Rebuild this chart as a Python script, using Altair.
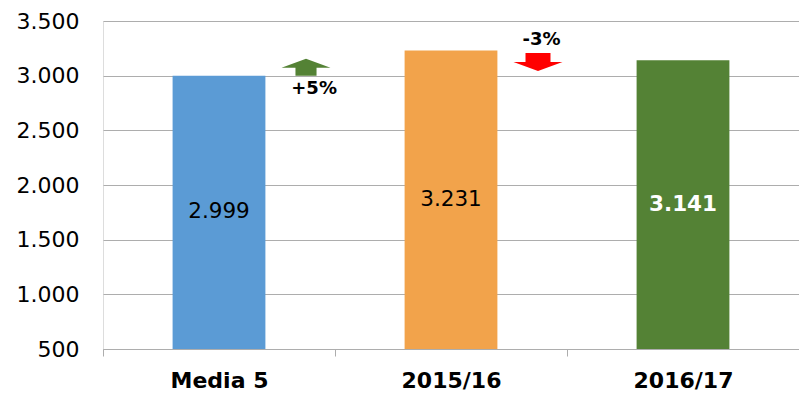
import altair as alt
import pandas as pd

# ---- data ----
categories = ["Media 5", "2015/16", "2016/17"]
values = [2999, 3231, 3141]
value_labels = ["2.999", "3.231", "3.141"]
bar_colors = ["#5B9BD5", "#F2A34B", "#548235"]

y_ticks = [500, 1000, 1500, 2000, 2500, 3000, 3500]

# change arrows: placed near the right side of a category band
arrow_cats = ["Media 5", "2015/16"]
arrow_values = [2999, 3141]
arrow_texts = ["+5%", "-3%"]
arrow_dirs = ["up", "down"]

FONT = "DejaVu Sans"
GRID = "#ADADAD"

bars_df = pd.DataFrame({"cat": categories, "value": values, "label": value_labels})
arrows_df = pd.DataFrame({"cat": arrow_cats, "value": arrow_values,
                          "text": arrow_texts, "dir": arrow_dirs})

x_enc = alt.X("cat:N", sort=categories,
              scale=alt.Scale(paddingInner=0, paddingOuter=0),
              axis=alt.Axis(title=None, labelFont=FONT, labelFontSize=22,
                            labelFontWeight="bold", labelColor="#000000",
                            labelAngle=0, labelPadding=14,
                            domainColor=GRID, tickColor=GRID,
                            tickBand="extent", tickSize=7, grid=False))

y_scale = alt.Scale(domain=[500, 3500], nice=False, zero=False)
y_axis = alt.Axis(title=None, values=y_ticks, labelFont=FONT, labelFontSize=22,
                  labelColor="#000000", labelPadding=24, ticks=False, domain=False,
                  grid=True, gridColor=GRID,
                  labelExpr="replace(format(datum.value, ','), ',', '.')")

base = alt.Chart(bars_df)

bars = base.mark_bar(width={"band": 0.4}).encode(
    x=x_enc,
    y=alt.Y("value:Q", scale=y_scale, axis=y_axis),
    y2=alt.datum(500),
    color=alt.Color("cat:N", scale=alt.Scale(domain=categories, range=bar_colors),
                    legend=None),
)

mid = base.transform_calculate(mid="(datum.value + 500) / 2")

labels_plain = mid.transform_filter(alt.datum.cat != "2016/17").mark_text(
    font=FONT, fontSize=21.5, color="#000000", baseline="middle"
).encode(x=alt.X("cat:N", sort=categories), y=alt.Y("mid:Q"), text="label:N")

labels_bold = mid.transform_filter(alt.datum.cat == "2016/17").mark_text(
    font=FONT, fontSize=21.5, fontWeight="bold", color="#FFFFFF", baseline="middle"
).encode(x=alt.X("cat:N", sort=categories), y=alt.Y("mid:Q"), text="label:N")

up_path = "M-0.43,0 L-0.43,-0.33 L-1,-0.33 L0,-0.69 L1,-0.33 L0.43,-0.33 L0.43,0 Z"
down_path = "M-0.51,-0.30 L0.51,-0.30 L0.51,0.07 L1,0.07 L0,0.44 L-1,0.07 L-0.51,0.07 Z"

arrows = alt.Chart(arrows_df).mark_point(filled=True, opacity=1, strokeWidth=0, size=2401).encode(
    x=alt.X("cat:N", sort=categories, bandPosition=0.875),
    y=alt.Y("value:Q"),
    shape=alt.Shape("dir:N", scale=alt.Scale(domain=["up", "down"], range=[up_path, down_path]),
                    legend=None),
    fill=alt.Fill("dir:N", scale=alt.Scale(domain=["up", "down"], range=["#548235", "#FF0000"]),
                  legend=None),
)

up_text = alt.Chart(arrows_df).transform_filter(alt.datum.dir == "up").mark_text(
    font=FONT, fontSize=18, fontWeight="bold", color="#000000", baseline="middle", dy=13
).encode(x=alt.X("cat:N", sort=categories, bandPosition=0.91), y="value:Q", text="text:N")

down_text = alt.Chart(arrows_df).transform_filter(alt.datum.dir == "down").mark_text(
    font=FONT, fontSize=18, fontWeight="bold", color="#000000", baseline="middle", dy=-20
).encode(x=alt.X("cat:N", sort=categories, bandPosition=0.89), y="value:Q", text="text:N")

chart = alt.layer(bars, labels_plain, labels_bold, arrows, up_text, down_text).resolve_scale(
    color="independent"
).properties(
    width=696, height=328,
    autosize=alt.AutoSizeParams(type="none"),
    padding={"left": 95, "top": 13, "right": 0, "bottom": 47},
).configure_view(stroke=None).configure(background="#FFFFFF")

chart.save("out.html", embed_options={"renderer": "svg", "actions": False})
